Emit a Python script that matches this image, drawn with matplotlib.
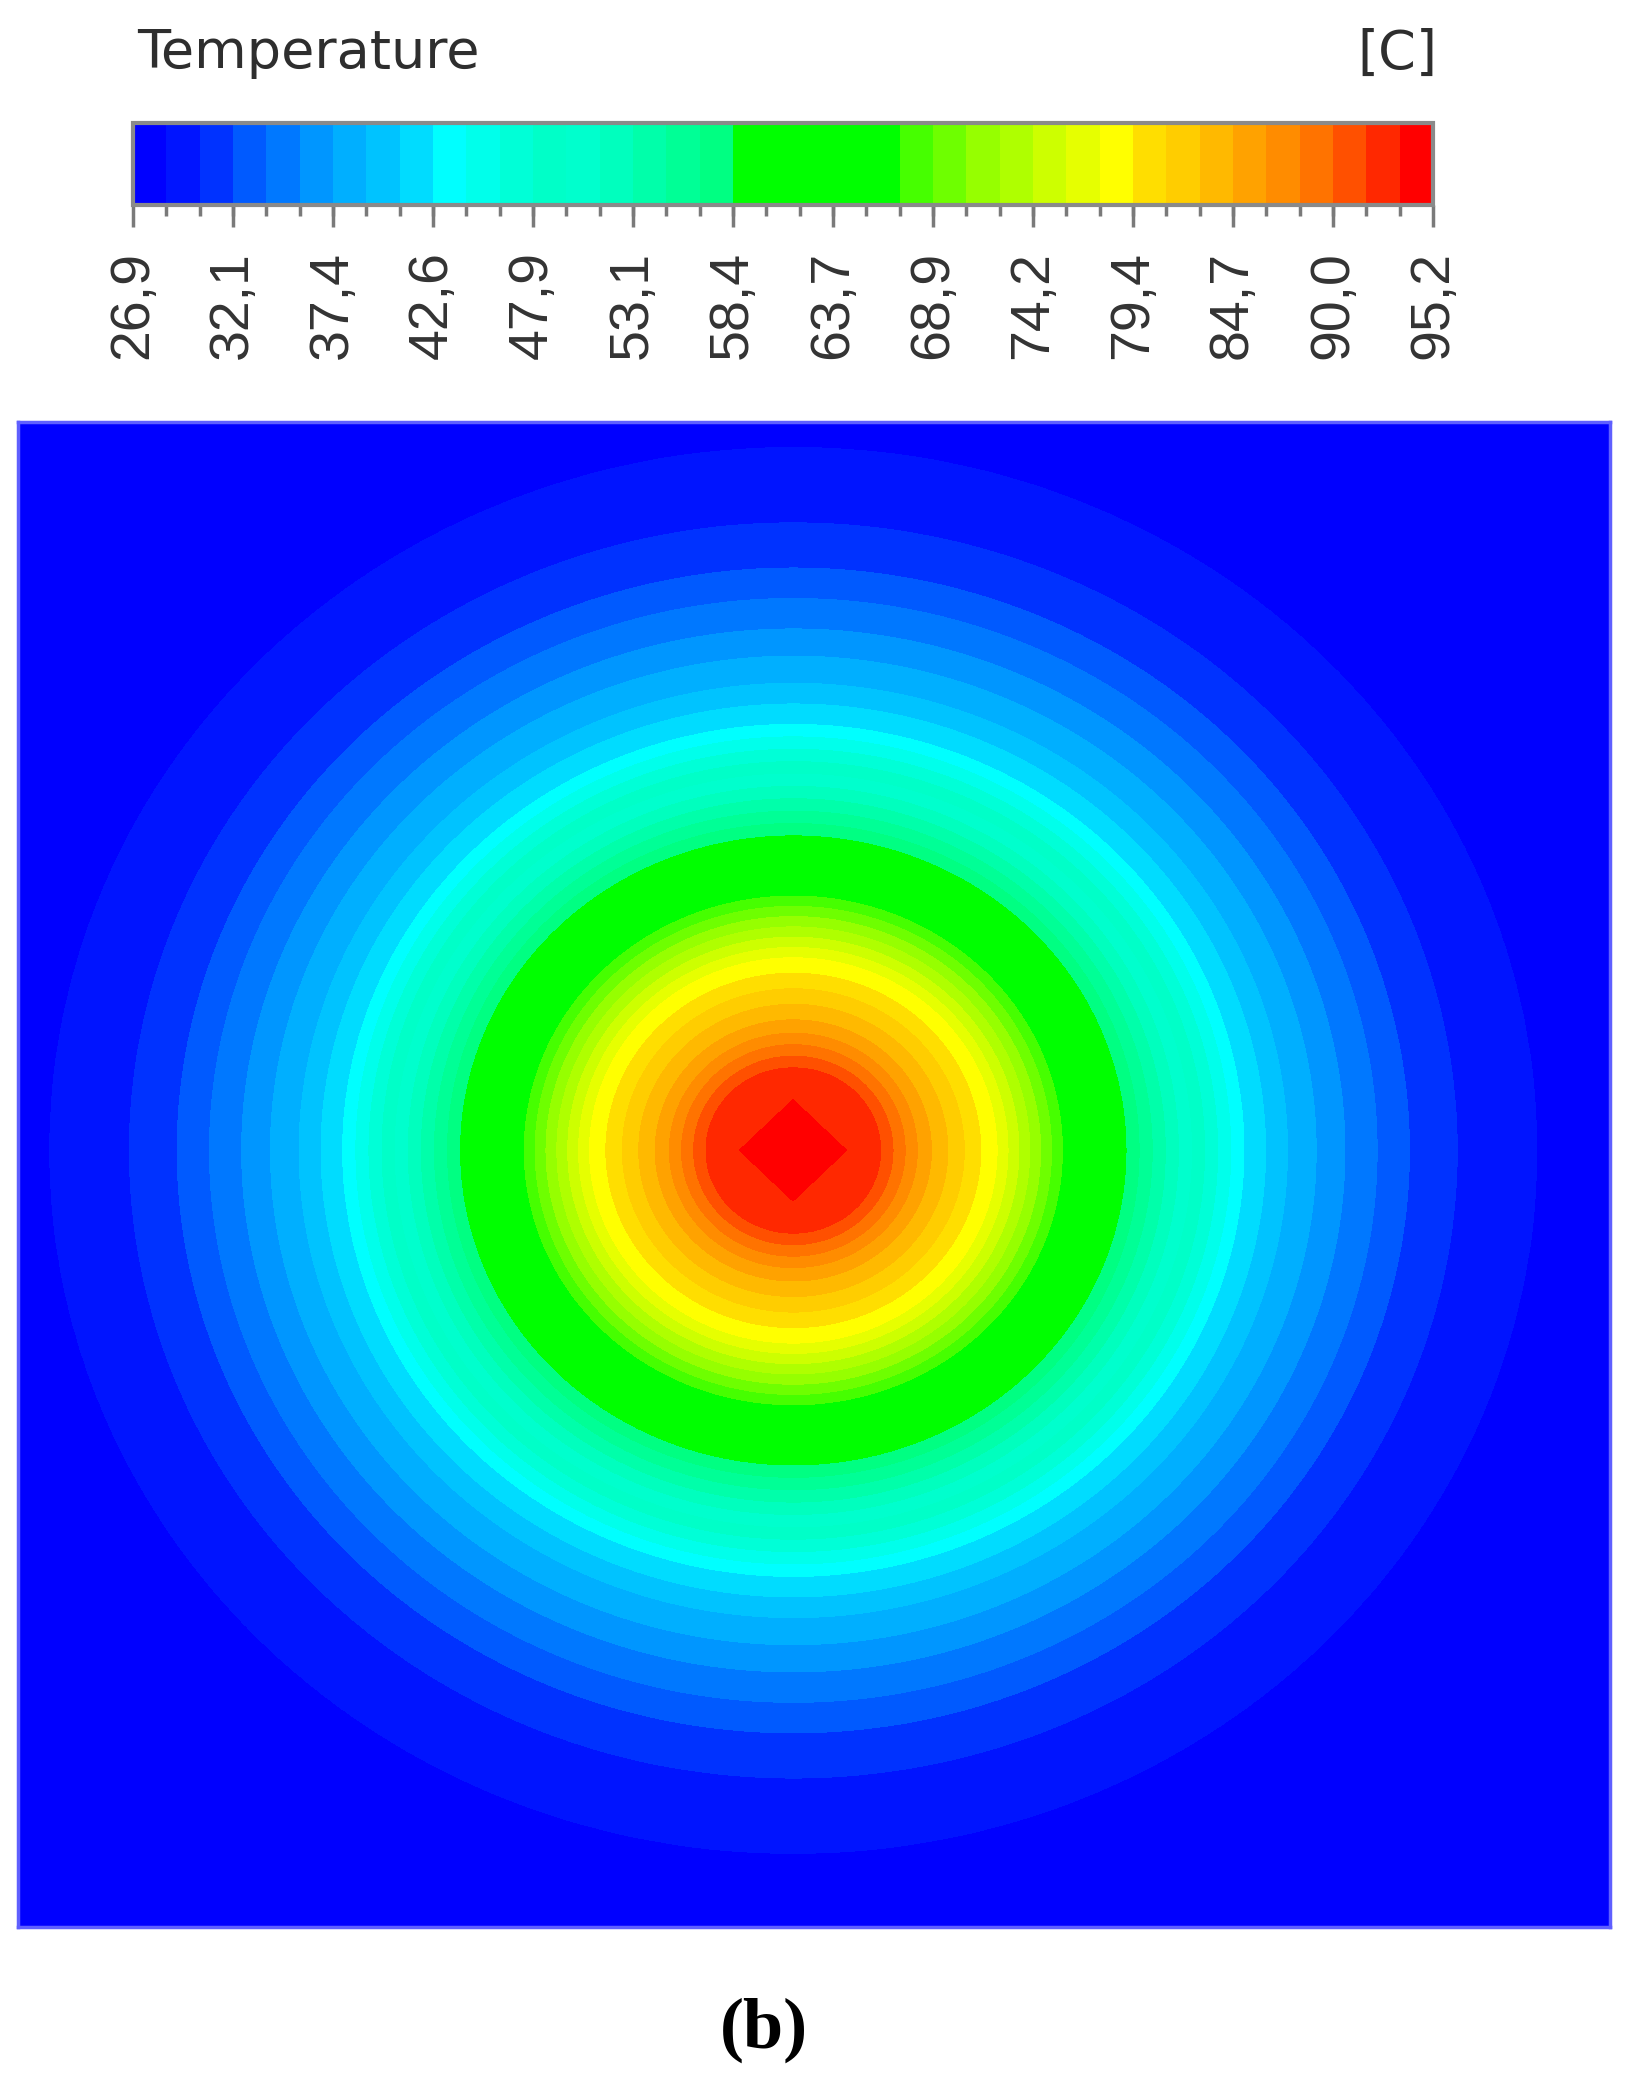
import numpy as np
import matplotlib
matplotlib.use("Agg")
import matplotlib.pyplot as plt
from matplotlib.colors import ListedColormap, BoundaryNorm
from matplotlib.ticker import FixedLocator

plt.rcParams["font.family"] = ["Liberation Sans", "DejaVu Sans"]

# ---------------- data ----------------
T_MIN, T_MAX = 26.9, 95.2
N_BANDS = 39
tick_values = [26.9, 32.15, 37.41, 42.66, 47.92, 53.17, 58.42, 63.68,
               68.93, 74.18, 79.44, 84.69, 89.95, 95.2]
tick_labels = ["26,9", "32,1", "37,4", "42,6", "47,9", "53,1", "58,4", "63,7",
               "68,9", "74,2", "79,4", "84,7", "90,0", "95,2"]
# radial temperature profile (radius in plate units)
profile_r = [0.0, 0.034, 0.055, 0.082, 0.128, 0.169, 0.209, 0.283, 0.310,
             0.346, 0.387, 0.417, 0.467, 0.62]
profile_T = [95.2, 93.45, 91.7, 85.5, 77.7, 67.18, 58.42, 42.66, 39.2,
             35.7, 32.15, 30.4, 28.65, 27.0]
hot_spot = (0.487, 0.516)
diamond_half = 0.034   # half-diagonal of the hottest (rhombic) cell patch

# ---------------- style ----------------
band_colors = [
    (0, 0, 255), (0, 20, 255), (0, 50, 255), (0, 90, 255), (0, 120, 255),
    (0, 150, 255), (0, 175, 255), (0, 195, 255), (0, 220, 255), (0, 255, 255),
    (0, 255, 235), (0, 255, 215), (0, 255, 200), (0, 255, 205), (0, 255, 190),
    (0, 255, 170), (0, 255, 150), (0, 255, 130), (0, 255, 0), (0, 255, 0),
    (0, 255, 0), (0, 255, 0), (0, 255, 0), (70, 255, 0), (110, 255, 0),
    (150, 255, 0), (175, 255, 0), (205, 255, 0), (230, 255, 0), (255, 255, 0),
    (255, 222, 0), (255, 205, 0), (255, 185, 0), (255, 162, 0), (255, 140, 0),
    (255, 115, 0), (255, 80, 0), (255, 40, 0), (255, 0, 0)]
band_colors = [(r / 255, g / 255, b / 255) for r, g, b in band_colors]
cmap = ListedColormap(band_colors)
levels = np.linspace(T_MIN, T_MAX, N_BANDS + 1)
norm = BoundaryNorm(levels, cmap.N)

W, H = 1628, 2076
fig = plt.figure(figsize=(W / 100, H / 100), dpi=100)

# ---------------- temperature field ----------------
xs = np.linspace(0, 1, 1400)
ys = np.linspace(0, 1, 1400)
X, Y = np.meshgrid(xs, ys)
dx = X - hot_spot[0]
dy = Y - hot_spot[1]
L2 = np.hypot(dx, dy)
L1 = np.abs(dx) + np.abs(dy)
r_eff = np.where(L1 < diamond_half, L1, np.maximum(L2, diamond_half + 0.002))
T = np.interp(r_eff, profile_r, profile_T)

ax = fig.add_axes([18 / W, 1 - 1927 / H, 1592 / W, 1505 / H])
ax.set_facecolor((0, 0, 1))
cs = ax.contourf(X, Y, T, levels=levels, cmap=cmap, norm=norm)
ax.set_xlim(0, 1)
ax.set_ylim(0, 1)
ax.set_xticks([])
ax.set_yticks([])
for s in ax.spines.values():
    s.set_color("#5f5fff")
    s.set_linewidth(2.5)

# ---------------- colour bar ----------------
cax = fig.add_axes([133 / W, 1 - 205 / H, 1300 / W, 82 / H])
cb = fig.colorbar(cs, cax=cax, orientation="horizontal", ticks=tick_values)
cb.set_ticklabels(tick_labels)
cax.xaxis.set_minor_locator(FixedLocator(levels))
cax.tick_params(axis="x", which="major", length=16, width=2.5,
                color="#7a7a7a", pad=17, labelsize=40, labelrotation=90,
                labelcolor="#333333")
cax.tick_params(axis="x", which="minor", length=8, width=2.5, color="#7a7a7a")
cb.outline.set_edgecolor("#8a8a8a")
cb.outline.set_linewidth(3)

fig.text(137 / W, 1 - 68 / H, "Temperature", fontsize=39, family="DejaVu Sans",
         color="#2e2e2e", ha="left", va="baseline")
fig.text(1437 / W, 1 - 69 / H, "[C]", fontsize=39, family="DejaVu Sans",
         color="#2e2e2e", ha="right", va="baseline")
fig.text(764 / W, 1 - 2048 / H, "(b)", fontsize=52, family="Liberation Serif",
         weight="bold", color="black", ha="center", va="baseline")

fig.savefig("out.png", dpi=100)
